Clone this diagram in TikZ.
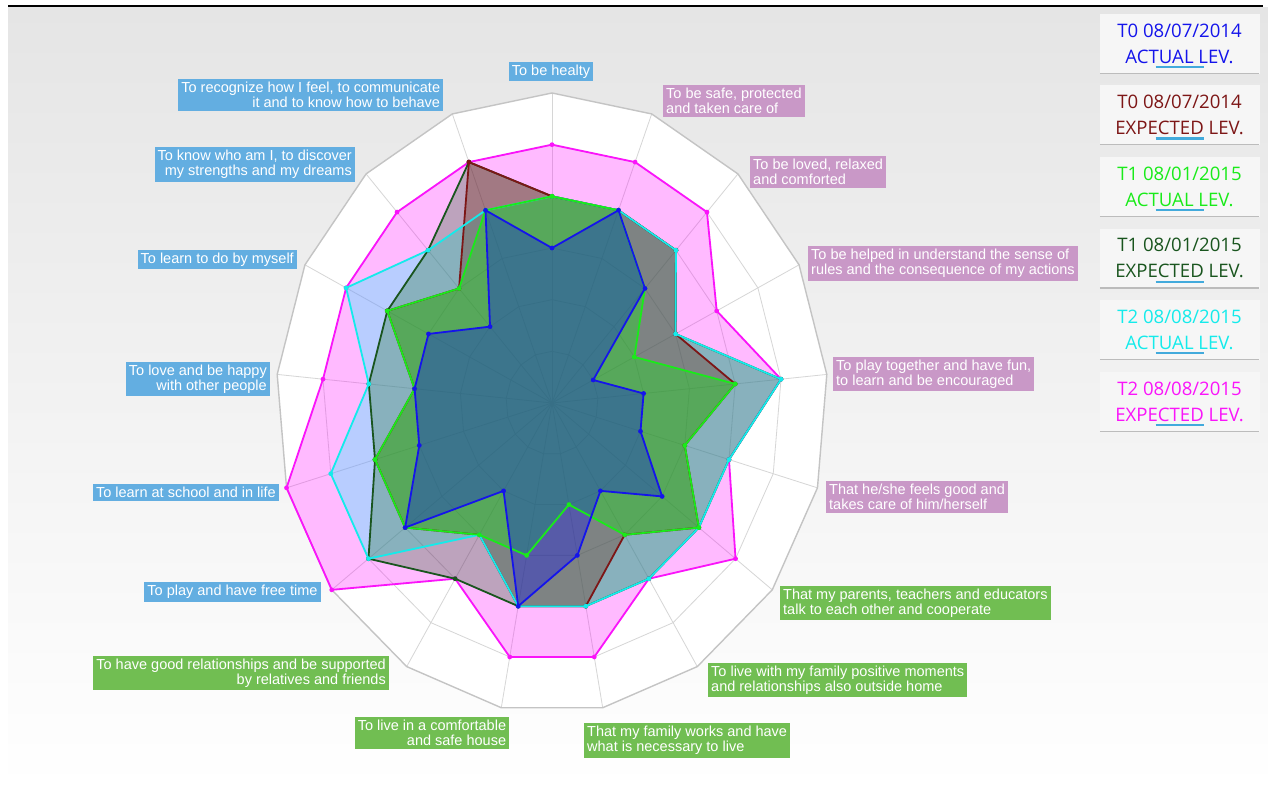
\documentclass[tikz,border=0pt]{standalone}
\usepackage{fontspec}
\setmainfont{Liberation Sans}
\newfontfamily\legfont{Open Sans}
\usetikzlibrary{positioning,calc}

\definecolor{bgtop}{RGB}{229,229,229}
\definecolor{outergray}{RGB}{196,196,196}
\definecolor{webgray}{RGB}{214,214,214}
\definecolor{labblue}{RGB}{99,174,225}
\definecolor{labpink}{RGB}{201,152,199}
\definecolor{labgreen}{RGB}{113,190,82}
\definecolor{legbg}{RGB}{246,246,246}
\definecolor{legshadow}{RGB}{188,188,188}
\definecolor{legbar}{RGB}{66,170,220}
\definecolor{tzeroact}{RGB}{20,20,235}
\definecolor{tzeroexp}{RGB}{125,22,22}
\definecolor{toneact}{RGB}{25,235,25}
\definecolor{toneexp}{RGB}{25,85,30}
\definecolor{ttwoact}{RGB}{20,235,235}
\definecolor{ttwoexp}{RGB}{250,20,250}
\definecolor{fzeroact}{RGB}{0,0,255}
\definecolor{fzeroexp}{RGB}{139,0,0}
\definecolor{foneact}{RGB}{0,255,0}
\definecolor{foneexp}{RGB}{0,100,0}
\definecolor{ftwoact}{RGB}{0,255,255}
\definecolor{ftwoexp}{RGB}{255,0,255}

\tikzset{
  lab/.style={text=white, inner xsep=3pt, inner ysep=3.2pt, font=\fontsize{14.5}{15}\selectfont},
  labL/.style={lab, fill=#1, align=right, anchor=east},
  labR/.style={lab, fill=#1, align=left, anchor=west},
  legbox/.style={fill=legbg, draw=legbg, minimum width=159pt, minimum height=59pt, inner sep=0pt,
    align=center, text=#1, font=\legfont\fontsize{18.6}{26}\selectfont},
  webline/.style={webgray, line width=0.8pt},
}

% radar helpers
\newcommand{\setseries}[2]{\foreach \v [count=\k from 0] in {#2} \coordinate (#1\k) at ({90-\k*360/17}:\v);}
\newcommand{\fillseries}[3]{\fill[#2, fill opacity=#3] (#10) \foreach \k in {1,...,16}{ -- (#1\k) } -- cycle;}
\newcommand{\lineseries}[2]{%
  \draw[#2, line width=1.8pt, line join=round] (#10) \foreach \k in {1,...,16}{ -- (#1\k) } -- cycle;
  \foreach \k in {0,...,16} \fill[#2] (#1\k) circle (2.4pt);}

\begin{document}
\begin{tikzpicture}[x=1pt,y=-1pt]
  \useasboundingbox (0,0) rectangle (1268,788);

  % background
  \shade[top color=bgtop, bottom color=white] (8,7) rectangle (1268,788);
  \draw[black, line width=2pt] (8,5.5) -- (1263,5.5);

  \begin{scope}[shift={(552,403)}, x=46pt, y=51.67pt]
    % web
    \fill[white] (90:6) \foreach \k in {1,...,16}{ -- ({90-\k*360/17}:6) } -- cycle;
    \foreach \lv in {1,...,5}{
      \draw[webline] (90:\lv) \foreach \k in {1,...,16}{ -- ({90-\k*360/17}:\lv) } -- cycle;
    }
    \foreach \k in {0,...,16}
      \draw[webline] (0,0) -- ({90-\k*360/17}:6);
    \draw[outergray, line width=1.4pt] (90:6) \foreach \k in {1,...,16}{ -- ({90-\k*360/17}:6) } -- cycle;

    % series values, one per axis, clockwise from the top
    \setseries{tza}{3,4,3,1,2,2,3,2,3,4,2,4,3,3,3,2,4}
    \setseries{tze}{4,4,4,3,4,3,4,3,4,4,3,4,4,3,4,3,5}
    \setseries{toa}{4,4,3,2,4,3,4,3,2,3,3,4,4,3,4,3,4}
    \setseries{toe}{4,4,4,3,5,4,4,4,4,4,4,5,4,4,4,4,5}
    \setseries{tta}{4,4,4,3,5,4,4,4,4,4,3,5,5,4,5,4,4}
    \setseries{tte}{5,5,5,4,5,4,5,4,5,5,4,6,6,5,5,5,5}

    % fills
    \fillseries{tte}{ftwoexp}{0.27}
    \fillseries{tta}{ftwoact}{0.28}
    \fillseries{tze}{fzeroexp}{0.3}
    \fillseries{toe}{foneexp}{0.26}
    \fillseries{toa}{foneact}{0.3}
    \fillseries{tza}{fzeroact}{0.3}

    % lines and points
    \lineseries{tte}{ttwoexp}
    \lineseries{toe}{toneexp}
    \lineseries{tze}{tzeroexp}
    \lineseries{tta}{ttwoact}
    \lineseries{toa}{toneact}
    \lineseries{tza}{tzeroact}
  \end{scope}

  % axis labels
  \node[lab, fill=labblue] (lab0) at (551,71.5) {To be healty};
  \node[labR=labpink] (lab1) at (663,101) {To be safe, protected\\and taken care of};
  \node[labR=labpink] (lab2) at (750,172) {To be loved, relaxed\\and comforted};
  \node[labR=labpink] (lab3) at (808,263.5) {To be helped in understand the sense of\\rules and the consequence of my actions};
  \node[labR=labpink] (lab4) at (833,374) {To play together and have fun,\\to learn and be encouraged};
  \node[labR=labpink] (lab5) at (826,497) {That he/she feels good and\\takes care of him/herself};
  \node[labR=labgreen] (lab6) at (780,603) {That my parents, teachers and educators\\talk to each other and cooperate};
  \node[labR=labgreen] (lab7) at (708,680) {To live with my family positive moments\\and relationships also outside home};
  \node[labR=labgreen] (lab8) at (584,740.5) {That my family works and have\\what is necessary to live};
  \node[labL=labgreen] (lab9) at (509.3,733) {To live in a comfortable\\and safe house};
  \node[labL=labgreen] (lab10) at (389,673) {To have good relationships and be supported\\by relatives and friends};
  \node[labL=labblue] (lab11) at (320.7,591.7) {To play and have free time};
  \node[labL=labblue] (lab12) at (279,492.5) {To learn at school and in life};
  \node[labL=labblue] (lab13) at (270,379) {To love and be happy\\with other people};
  \node[labL=labblue] (lab14) at (297,259.5) {To learn to do by myself};
  \node[labL=labblue] (lab15) at (355,164.7) {To know who am I, to discover\\my strengths and my dreams};
  \node[labL=labblue] (lab16) at (443.3,94.8) {To recognize how I feel, to communicate\\it and to know how to behave};

  % legend
  \node[legbox=tzeroact] (leg0a) at (1179.5,43.5) {T0 08/07/2014\\ACTUAL LEV.};
  \node[legbox=tzeroexp, below=12.2pt of leg0a] (leg0e) {T0 08/07/2014\\EXPECTED LEV.};
  \node[legbox=toneact, below=12.2pt of leg0e] (leg1a) {T1 08/01/2015\\ACTUAL LEV.};
  \node[legbox=toneexp, below=12.2pt of leg1a] (leg1e) {T1 08/01/2015\\EXPECTED LEV.};
  \node[legbox=ttwoact, below=12.2pt of leg1e] (leg2a) {T2 08/08/2015\\ACTUAL LEV.};
  \node[legbox=ttwoexp, below=12.2pt of leg2a] (leg2e) {T2 08/08/2015\\EXPECTED LEV.};
  \foreach \n in {leg0a,leg0e,leg1a,leg1e,leg2a,leg2e}{
    \draw[legshadow, line width=1.2pt] (\n.south west) -- (\n.south east);
    \draw[legbar, line width=2.2pt] ([xshift=-24pt, yshift=6.3pt]\n.south) -- ([xshift=24pt, yshift=6.3pt]\n.south);
  }
\end{tikzpicture}
\end{document}
